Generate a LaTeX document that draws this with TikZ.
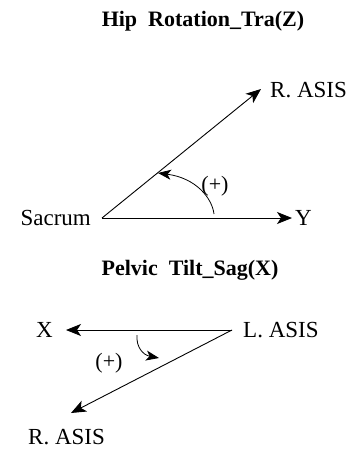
\documentclass[tikz,border=0pt]{standalone}
\usepackage{fontspec}
\setmainfont{Liberation Serif}
\usetikzlibrary{arrows.meta}
\begin{document}
\begin{tikzpicture}[x=1pt,y=-1pt,
  lbl/.style={font=\fontsize{23}{26}\selectfont, inner sep=0pt},
  ttl/.style={font=\fontsize{22}{24}\selectfont\bfseries, inner sep=0pt},
  pls/.style={font=\fontsize{22}{24}\selectfont, inner sep=0pt},
  vec/.style={line width=0.9pt, -{Stealth[length=15pt,width=12pt,inset=4pt]}},
  rot/.style={line width=0.8pt, -{Stealth[length=13pt,width=10pt,inset=3.5pt]}}]
\useasboundingbox (0,0) rectangle (349,450);
% top diagram
\node[ttl] (t1) at (203,21) {Hip\ \ Rotation\_Tra(Z)};
\node[lbl, anchor=east] (sac) at (91,218) {Sacrum};
\node[lbl, anchor=west] (y) at (295,218) {Y};
\node[lbl, anchor=west] (ra1) at (270,90) {R.\ ASIS};
\coordinate (o1) at (102,218);
\coordinate (y1) at (292,218);
\coordinate (r1) at (261,89);
\draw[vec] (o1) -- (y1);
\draw[vec] (o1) -- (r1);
\coordinate (a1s) at (214,214);
\coordinate (a1e) at (158,173);
\draw[rot] (a1s) .. controls (212,198) and (196,178) .. (a1e);
\node[pls] (p1) at (215,186) {(+)};
% bottom diagram
\node[ttl] (t2) at (190,270) {Pelvic\ \ Tilt\_Sag(X)};
\node[lbl, anchor=east] (x) at (53,330) {X};
\node[lbl, anchor=west] (la) at (243,330) {L.\ ASIS};
\node[lbl, anchor=west] (ra2) at (28,437) {R.\ ASIS};
\coordinate (o2) at (232,330);
\coordinate (x2) at (66,330);
\coordinate (r2) at (71,413);
\draw[vec] (o2) -- (x2);
\draw[vec] (o2) -- (r2);
\coordinate (a2s) at (137,335);
\coordinate (a2e) at (159,358);
\draw[rot] (a2s) .. controls (136,347) and (143,355) .. (a2e);
\node[pls] (p2) at (109,363) {(+)};
\end{tikzpicture}
\end{document}
